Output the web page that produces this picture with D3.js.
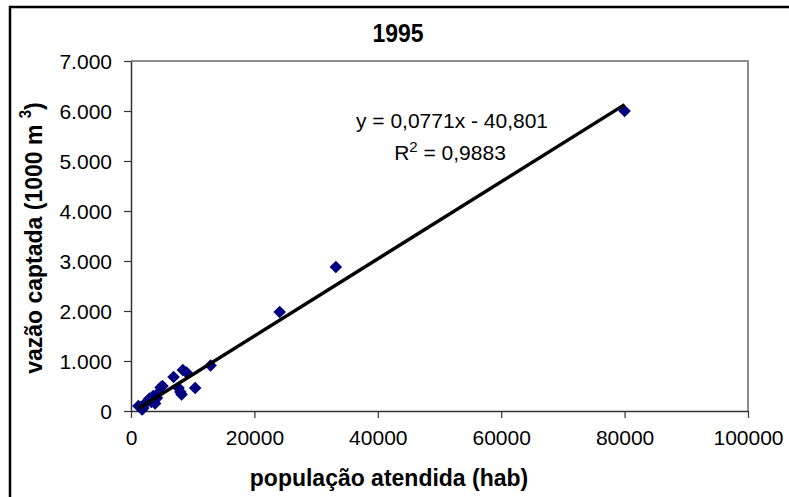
<!DOCTYPE html>
<html>
<head>
<meta charset="utf-8">
<script src="https://cdn.jsdelivr.net/npm/d3@7"></script>
<style>
  html, body { margin: 0; padding: 0; background: #fff; }
  svg { display: block; }
  text { font-family: "Liberation Sans", Arial, sans-serif; fill: #000; }
</style>
</head>
<body>
<script>
// ---- data ----
const title = "1995";
const xLabel = "população atendida (hab)";
const yLabelMain = "vazão captada (1000 m ";
const yLabelSup = "3";
const populacao = [1200, 1500, 1800, 2000, 2300, 2700, 3000, 3300, 3600, 3900, 4200, 4500, 4800, 5100, 6900, 7700, 8000, 8200, 8400, 9000, 10400, 12900, 24100, 33200, 80000];
const vazao      = [100,  80,   30,   60,   150,  200,  250,  180,  300,  150,  260,  370,  470,  500,  680,  460,  380,  330,  820,  770,  460,  910,  1980, 2880, 6000];
const xTicks = [0, 20000, 40000, 60000, 80000, 100000];
const yTicks = [0, 1000, 2000, 3000, 4000, 5000, 6000, 7000];
const slope = 0.0771;
const intercept = -40.801;
const eqText = "y = 0,0771x - 40,801";
const r2Value = "0,9883";

// ---- layout ----
const W = 789, H = 497;
const plot = { left: 131, right: 748, top: 61, bottom: 411 };

const svg = d3.select("body").append("svg").attr("width", W).attr("height", H);

// outer chart border
svg.append("rect").attr("x", 10).attr("y", 7).attr("width", 820).attr("height", 520)
  .attr("fill", "#fff").attr("stroke", "#000").attr("stroke-width", 2.5);

const x = d3.scaleLinear().domain([0, 100000]).range([plot.left, plot.right]);
const y = d3.scaleLinear().domain([0, 7000]).range([plot.bottom, plot.top]);

// plot area border (top/right gray)
svg.append("path")
  .attr("d", `M${plot.left},${plot.top}H${plot.right}V${plot.bottom}`)
  .attr("fill", "none").attr("stroke", "#8c8c8c").attr("stroke-width", 2);

const pt = d3.formatLocale({decimal: ",", thousands: ".", grouping: [3], currency: ["R$", ""]});
const yFmt = pt.format(",d");

// axes
const gx = svg.append("g").attr("transform", `translate(0,${plot.bottom})`)
  .call(d3.axisBottom(x).tickValues(xTicks).tickFormat(d3.format("d")).tickSizeInner(7).tickSizeOuter(0).tickPadding(12));
const gy = svg.append("g").attr("transform", `translate(${plot.left},0)`)
  .call(d3.axisLeft(y).tickValues(yTicks).tickFormat(yFmt).tickSizeInner(7).tickSizeOuter(0).tickPadding(12));
[gx, gy].forEach(g => {
  g.selectAll("path.domain").attr("stroke", "#333").attr("stroke-width", 1.5);
  g.selectAll(".tick line").attr("stroke", "#333").attr("stroke-width", 1.2);
  g.selectAll(".tick text").attr("font-size", 21).attr("font-family", "Liberation Sans, Arial, sans-serif").attr("fill", "#000");
});
gy.selectAll(".tick text").attr("dy", "0.35em");

// points
const diamond = "M0,-6.3L6.3,0L0,6.3L-6.3,0Z";
svg.append("g").selectAll("path").data(populacao.map((p, i) => [p, vazao[i]])).join("path")
  .attr("d", diamond)
  .attr("transform", d => `translate(${x(d[0])},${y(d[1])})`)
  .attr("fill", "#000080");

// trend line
const xr = d3.extent(populacao);
svg.append("line")
  .attr("x1", x(xr[0])).attr("y1", y(slope * xr[0] + intercept))
  .attr("x2", x(xr[1])).attr("y2", y(slope * xr[1] + intercept))
  .attr("stroke", "#000").attr("stroke-width", 3.5);

// equation
svg.append("text").attr("x", 452).attr("y", 128).attr("text-anchor", "middle")
  .attr("font-size", 21).text(eqText);
const r2 = svg.append("text").attr("x", 450).attr("y", 160).attr("text-anchor", "middle").attr("font-size", 21);
r2.append("tspan").text("R");
r2.append("tspan").attr("font-size", 15).attr("dy", -8).text("2");
r2.append("tspan").attr("dy", 8).text(" = " + r2Value);

// title
svg.append("text").attr("transform", "translate(398,42) scale(1,1.12)").attr("text-anchor", "middle")
  .attr("font-size", 23).attr("font-weight", "bold").text(title);

// x title
svg.append("text").attr("transform", "translate(389,486) scale(1,1.08)").attr("text-anchor", "middle")
  .attr("font-size", 23).attr("font-weight", "bold").text(xLabel);

// y title
const yt = svg.append("text").attr("transform", "translate(42,238) rotate(-90) scale(1,1.08)")
  .attr("text-anchor", "middle").attr("font-size", 23).attr("font-weight", "bold");
yt.append("tspan").text(yLabelMain);
yt.append("tspan").attr("font-size", 15).attr("dy", -10).text(yLabelSup);
yt.append("tspan").attr("dy", 10).text(")");
</script>
</body>
</html>
